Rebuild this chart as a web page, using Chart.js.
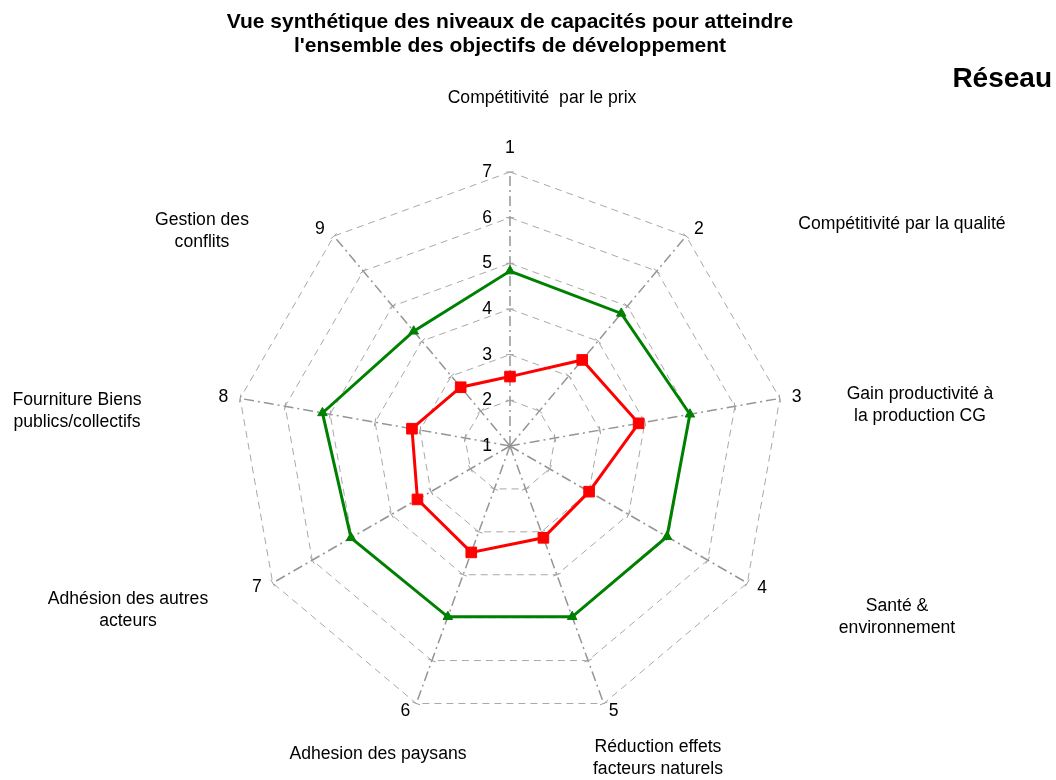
<!DOCTYPE html>
<html><head><meta charset="utf-8">
<script src="https://cdn.jsdelivr.net/npm/chart.js@4.4.1/dist/chart.umd.min.js"></script>
<style>html,body{margin:0;padding:0;background:#fff;}#wrap{width:1056px;height:780px;}</style>
</head><body><div id="wrap"><canvas id="c" width="1056" height="780"></canvas></div>
<script>
// ---- data ----
const axisNumbers = ['1','2','3','4','5','6','7','8','9'];
const categoryNames = [
  ['Compétitivité  par le prix'],
  ['Compétitivité par la qualité'],
  ['Gain productivité à','la production CG'],
  ['Santé &','environnement'],
  ['Réduction effets','facteurs naturels'],
  ['Adhesion des paysans'],
  ['Adhésion des autres','acteurs'],
  ['Fourniture Biens','publics/collectifs'],
  ['Gestion des','conflits']
];
const tickValues = [1,2,3,4,5,6,7];
const greenValues = [4.83, 4.79, 5.00, 4.97, 4.98, 4.98, 5.02, 5.17, 4.28];
const redValues   = [2.52, 3.46, 3.86, 3.00, 3.14, 3.48, 3.34, 3.18, 2.68];
const titleLines = ['Vue synthétique des niveaux de capacités pour atteindre', "l'ensemble des objectifs de développement"];
const cornerLabel = 'Réseau';

const FONT = '"Liberation Sans", Arial, sans-serif';

const textPlugin = {
  id: 'radarText',
  beforeDatasetsDraw(chart) {
    const s = chart.scales.r, ctx = chart.ctx;
    ctx.save();
    ctx.strokeStyle = '#a0a0a0';
    ctx.lineWidth = 1;
    ctx.setLineDash([]);
    for (let i = 0; i < axisNumbers.length; i++) {
      const ang = s.getIndexAngle(i) - Math.PI / 2;
      const px = -Math.sin(ang), py = Math.cos(ang);
      for (const v of tickValues.slice(1)) {
        const p = s.getPointPosition(i, s.getDistanceFromCenterForValue(v));
        ctx.beginPath();
        ctx.moveTo(p.x - px * 4, p.y - py * 4);
        ctx.lineTo(p.x + px * 4, p.y + py * 4);
        ctx.stroke();
      }
    }
    ctx.restore();
  },
  afterDraw(chart) {
    const s = chart.scales.r, ctx = chart.ctx;
    const cx = s.xCenter, cy = s.yCenter, R = s.drawingArea;
    ctx.save();
    ctx.fillStyle = '#000';
    ctx.textBaseline = 'middle';
    ctx.font = '17.6px ' + FONT;
    // tick labels
    ctx.textAlign = 'right';
    for (const v of tickValues) {
      ctx.fillText(String(v), cx - 18, cy - s.getDistanceFromCenterForValue(v));
    }
    // axis numbers
    const numOff = [[0,-24,'center'],[8,-7,'left'],[12,-1,'left'],[10,5,'left'],[5,8,'left'],[-6,8,'right'],[-11,4,'right'],[-12,-1,'right'],[-9,-7,'right']];
    for (let i = 0; i < axisNumbers.length; i++) {
      const p = s.getPointPosition(i, R);
      ctx.textAlign = numOff[i][2];
      ctx.fillText(axisNumbers[i], p.x + numOff[i][0], p.y + numOff[i][1]);
    }
    // category names (centre offsets from chart centre)
    const catOff = [[32,-348],[392,-222],[410,-41],[387,171],[148,312],[-132,308],[-382,164],[-433,-35],[-308,-215]];
    ctx.textAlign = 'center';
    const lh = 22;
    for (let i = 0; i < categoryNames.length; i++) {
      const lines = categoryNames[i];
      const y0 = cy + catOff[i][1] - (lines.length - 1) * lh / 2;
      lines.forEach((t, k) => ctx.fillText(t, cx + catOff[i][0], y0 + k * lh));
    }
    // corner label
    ctx.font = 'bold 28px ' + FONT;
    ctx.textAlign = 'right';
    ctx.fillText(cornerLabel, 1052, 79);
    ctx.restore();
  }
};

new Chart(document.getElementById('c'), {
  type: 'radar',
  data: {
    labels: axisNumbers,
    datasets: [
      { label: 'A', data: greenValues, borderColor: '#008000', backgroundColor: '#008000',
        borderWidth: 3, pointStyle: 'triangle', pointRadius: 5.5, pointBackgroundColor: '#008000',
        pointBorderColor: '#008000', pointBorderWidth: 1, fill: false, tension: 0 },
      { label: 'B', data: redValues, borderColor: '#ff0000', backgroundColor: '#ff0000',
        borderWidth: 3, pointStyle: 'rect', pointRadius: 7.5, pointBackgroundColor: '#ff0000',
        pointBorderColor: '#ff0000', pointBorderWidth: 1, fill: false, tension: 0 }
    ]
  },
  options: {
    responsive: false,
    devicePixelRatio: 1,
    animation: false,
    layout: { padding: { left: 0, right: 36, top: 0, bottom: 59 } },
    plugins: {
      legend: { display: false },
      tooltip: { enabled: false },
      title: {
        display: true, text: titleLines, color: '#000',
        font: { family: FONT, size: 21, weight: 'bold', lineHeight: 1.15 },
        padding: { top: 10, bottom: 113 }
      }
    },
    scales: {
      r: {
        min: 1, max: 7,
        ticks: { display: false, stepSize: 1 },
        pointLabels: { display: false },
        grid: { circular: false, color: '#a8a8a8', lineWidth: 1, borderDash: [7,5] },
        border: { dash: [7,5] },
        angleLines: { color: '#959595', lineWidth: 1.5, borderDash: [10,4,2,4] }
      }
    }
  },
  plugins: [textPlugin]
});
</script>
</body></html>
